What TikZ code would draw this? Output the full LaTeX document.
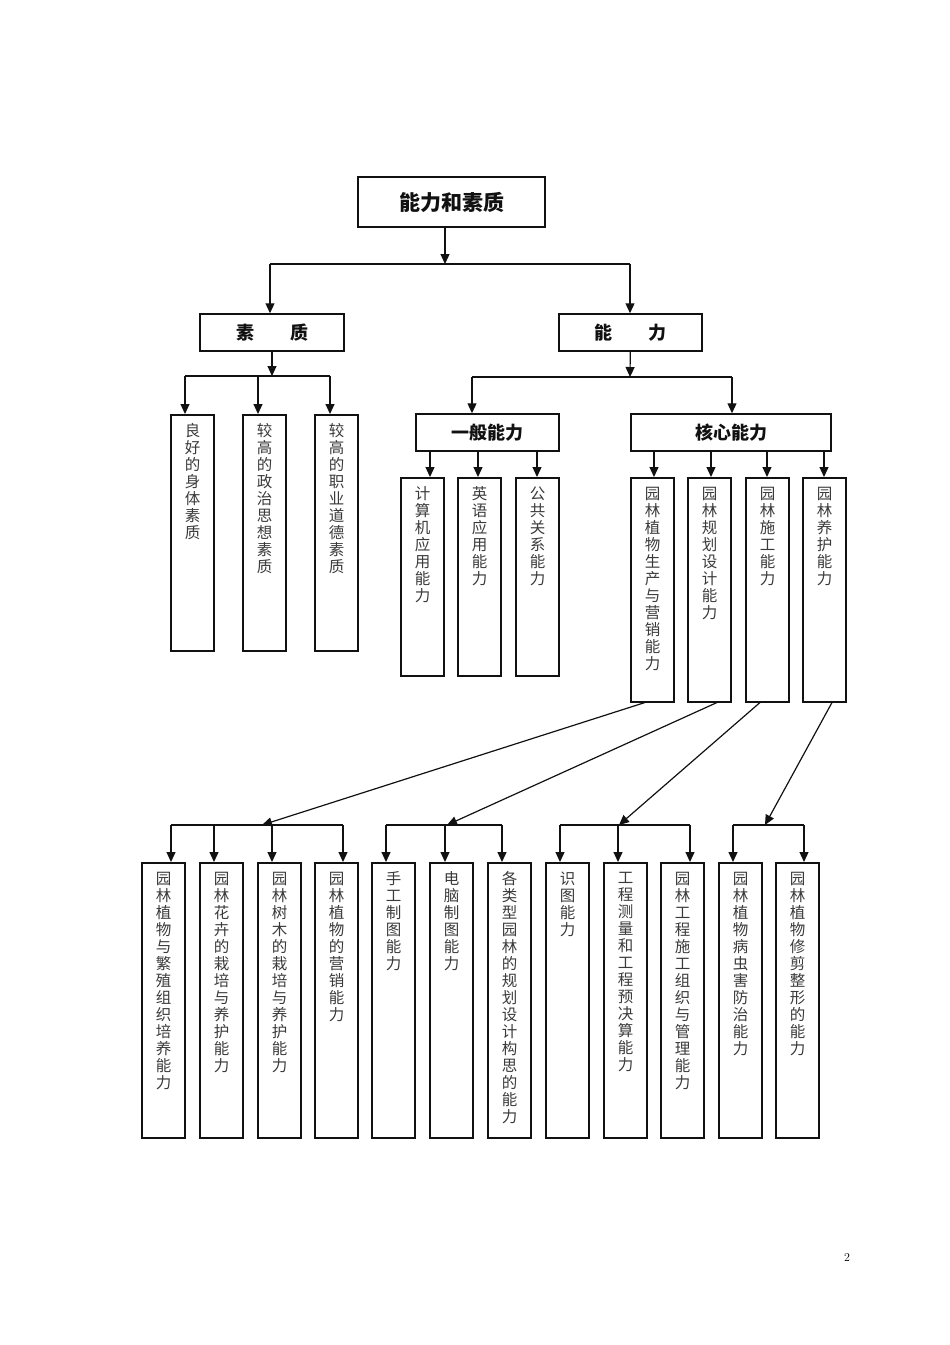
\documentclass[tikz,border=0pt]{standalone}
\usepackage{fontspec}
\usepackage{tikz}
\usetikzlibrary{arrows.meta, positioning}
\newfontfamily\cjk{Noto Sans CJK SC}
\XeTeXlinebreaklocale "zh"
\XeTeXlinebreakskip = 0pt plus 1pt
\definecolor{Ink}{HTML}{111111}
\definecolor{Soft}{HTML}{3A3A3A}
\newcommand{\colbox}[2]{\parbox[t][#1][t]{18pt}{\centering #2}}

\begin{document}
\begin{tikzpicture}[
  x=1pt, y=-1pt,
  head/.style={draw=Ink, line width=1.5pt, inner sep=0pt, minimum height=37pt, text=Ink, font=\cjk\bfseries\fontsize{18}{20}\selectfont},
  col/.style={draw=Ink, line width=1.5pt, anchor=north, minimum width=43pt, inner xsep=0pt, inner ysep=9pt, text=Soft, font=\cjk\fontsize{15.5}{17}\selectfont},
  line/.style={draw=Ink, line width=1.2pt},
  arrow/.style={line, -{Triangle[length=10pt, width=9pt]}}
]
\useasboundingbox (0,0) rectangle (950,1345);

\node[head, minimum width=187pt, minimum height=50pt, font=\cjk\bfseries\fontsize{21}{24}\selectfont] (top) at (451.5,202) {能力和素质};
\node[head, minimum width=144pt] (suzhi) at (272,332.5) {素　　质};
\node[head, minimum width=143pt] (nengli) at (630.5,332.5) {能　　力};
\node[head, minimum width=143pt] (yiban) at (487.5,432.5) {一般能力};
\node[head, minimum width=200pt] (hexin) at (731,432.5) {核心能力};

\node[col] (sz1) at (192.5,414) {\colbox{218pt}{良好的身体素质}};
\node[col] (sz2) at (264.5,414) {\colbox{218pt}{较高的政治思想素质}};
\node[col] (sz3) at (336.5,414) {\colbox{218pt}{较高的职业道德素质}};

\node[col] (yb1) at (422.5,477) {\colbox{180pt}{计算机应用能力}};
\node[col] (yb2) at (479.5,477) {\colbox{180pt}{英语应用能力}};
\node[col] (yb3) at (537.5,477) {\colbox{180pt}{公共关系能力}};

\node[col] (hx1) at (652.5,477) {\colbox{206pt}{园林植物生产与营销能力}};
\node[col] (hx2) at (709.5,477) {\colbox{206pt}{园林规划设计能力}};
\node[col] (hx3) at (767.5,477) {\colbox{206pt}{园林施工能力}};
\node[col] (hx4) at (824.5,477) {\colbox{206pt}{园林养护能力}};

\node[col] (b1) at (163.5,862) {\colbox{257pt}{园林植物与繁殖组织培养能力}};
\node[col] (b2) at (221.5,862) {\colbox{257pt}{园林花卉的栽培与养护能力}};
\node[col] (b3) at (279.5,862) {\colbox{257pt}{园林树木的栽培与养护能力}};
\node[col] (b4) at (336.5,862) {\colbox{257pt}{园林植物的营销能力}};
\node[col] (b5) at (393.5,862) {\colbox{257pt}{手工制图能力}};
\node[col] (b6) at (451.5,862) {\colbox{257pt}{电脑制图能力}};
\node[col] (b7) at (509.5,862) {\colbox{257pt}{各类型园林的规划设计构思的能力}};
\node[col] (b8) at (567.5,862) {\colbox{257pt}{识图能力}};
\node[col] (b9) at (625.5,862) {\colbox{257pt}{工程测量和工程预决算能力}};
\node[col] (b10) at (682.5,862) {\colbox{257pt}{园林工程施工组织与管理能力}};
\node[col] (b11) at (740.5,862) {\colbox{257pt}{园林植物病虫害防治能力}};
\node[col] (b12) at (797.5,862) {\colbox{257pt}{园林植物修剪整形的能力}};

\node[font=\fontsize{12}{14}\selectfont] (pagenum) at (847,1257) {2};

\coordinate (j0) at (445,264);
\coordinate (j0l) at (270,264);
\coordinate (j0r) at (630,264);
\draw[arrow] (top.south -| j0) -- (j0);
\draw[line] (j0l) -- (j0r);
\draw[arrow] (j0l) -- (j0l |- suzhi.north);
\draw[arrow] (j0r) -- (j0r |- nengli.north);

\coordinate (j1) at (272,376);
\draw[arrow] (suzhi) -- (j1);
\foreach \i/\x in {1/185, 2/258, 3/330} {
  \coordinate (s\i) at (\x,376);
  \draw[arrow] (s\i) -- (s\i |- sz\i.north);
}
\draw[line] (s1) -- (s3);

\coordinate (j2) at (630,377);
\coordinate (n1) at (472,377);
\coordinate (n2) at (732,377);
\draw[arrow] (nengli) -- (j2);
\draw[line] (n1) -- (n2);
\draw[arrow] (n1) -- (n1 |- yiban.north);
\draw[arrow] (n2) -- (n2 |- hexin.north);

\foreach \i/\x in {1/430, 2/478, 3/537} {
  \coordinate (y\i) at (\x,451);
  \draw[arrow] (y\i) -- (y\i |- yb\i.north);
}
\foreach \i/\x in {1/654, 2/711, 3/767, 4/824} {
  \coordinate (h\i) at (\x,451);
  \draw[arrow] (h\i) -- (h\i |- hx\i.north);
}

\foreach \i/\x in {1/171, 2/214, 3/272, 4/343, 5/386, 6/445, 7/502, 8/560, 9/618, 10/690, 11/733, 12/804} {
  \coordinate (t\i) at (\x,825);
  \draw[arrow] (t\i) -- (t\i |- b\i.north);
}
\draw[line] (t1) -- (t4);
\draw[line] (t5) -- (t7);
\draw[line] (t8) -- (t10);
\draw[line] (t11) -- (t12);

\coordinate (g1) at (262,825);
\coordinate (g2) at (447,825);
\coordinate (g3) at (619,825);
\coordinate (g4) at (765,825);
\draw[arrow] ([xshift=-7.5pt]hx1.south) -- (g1);
\draw[arrow] ([xshift=7.5pt]hx2.south) -- (g2);
\draw[arrow] ([xshift=-7.5pt]hx3.south) -- (g3);
\draw[arrow] ([xshift=7.5pt]hx4.south) -- (g4);
\end{tikzpicture}
\end{document}
